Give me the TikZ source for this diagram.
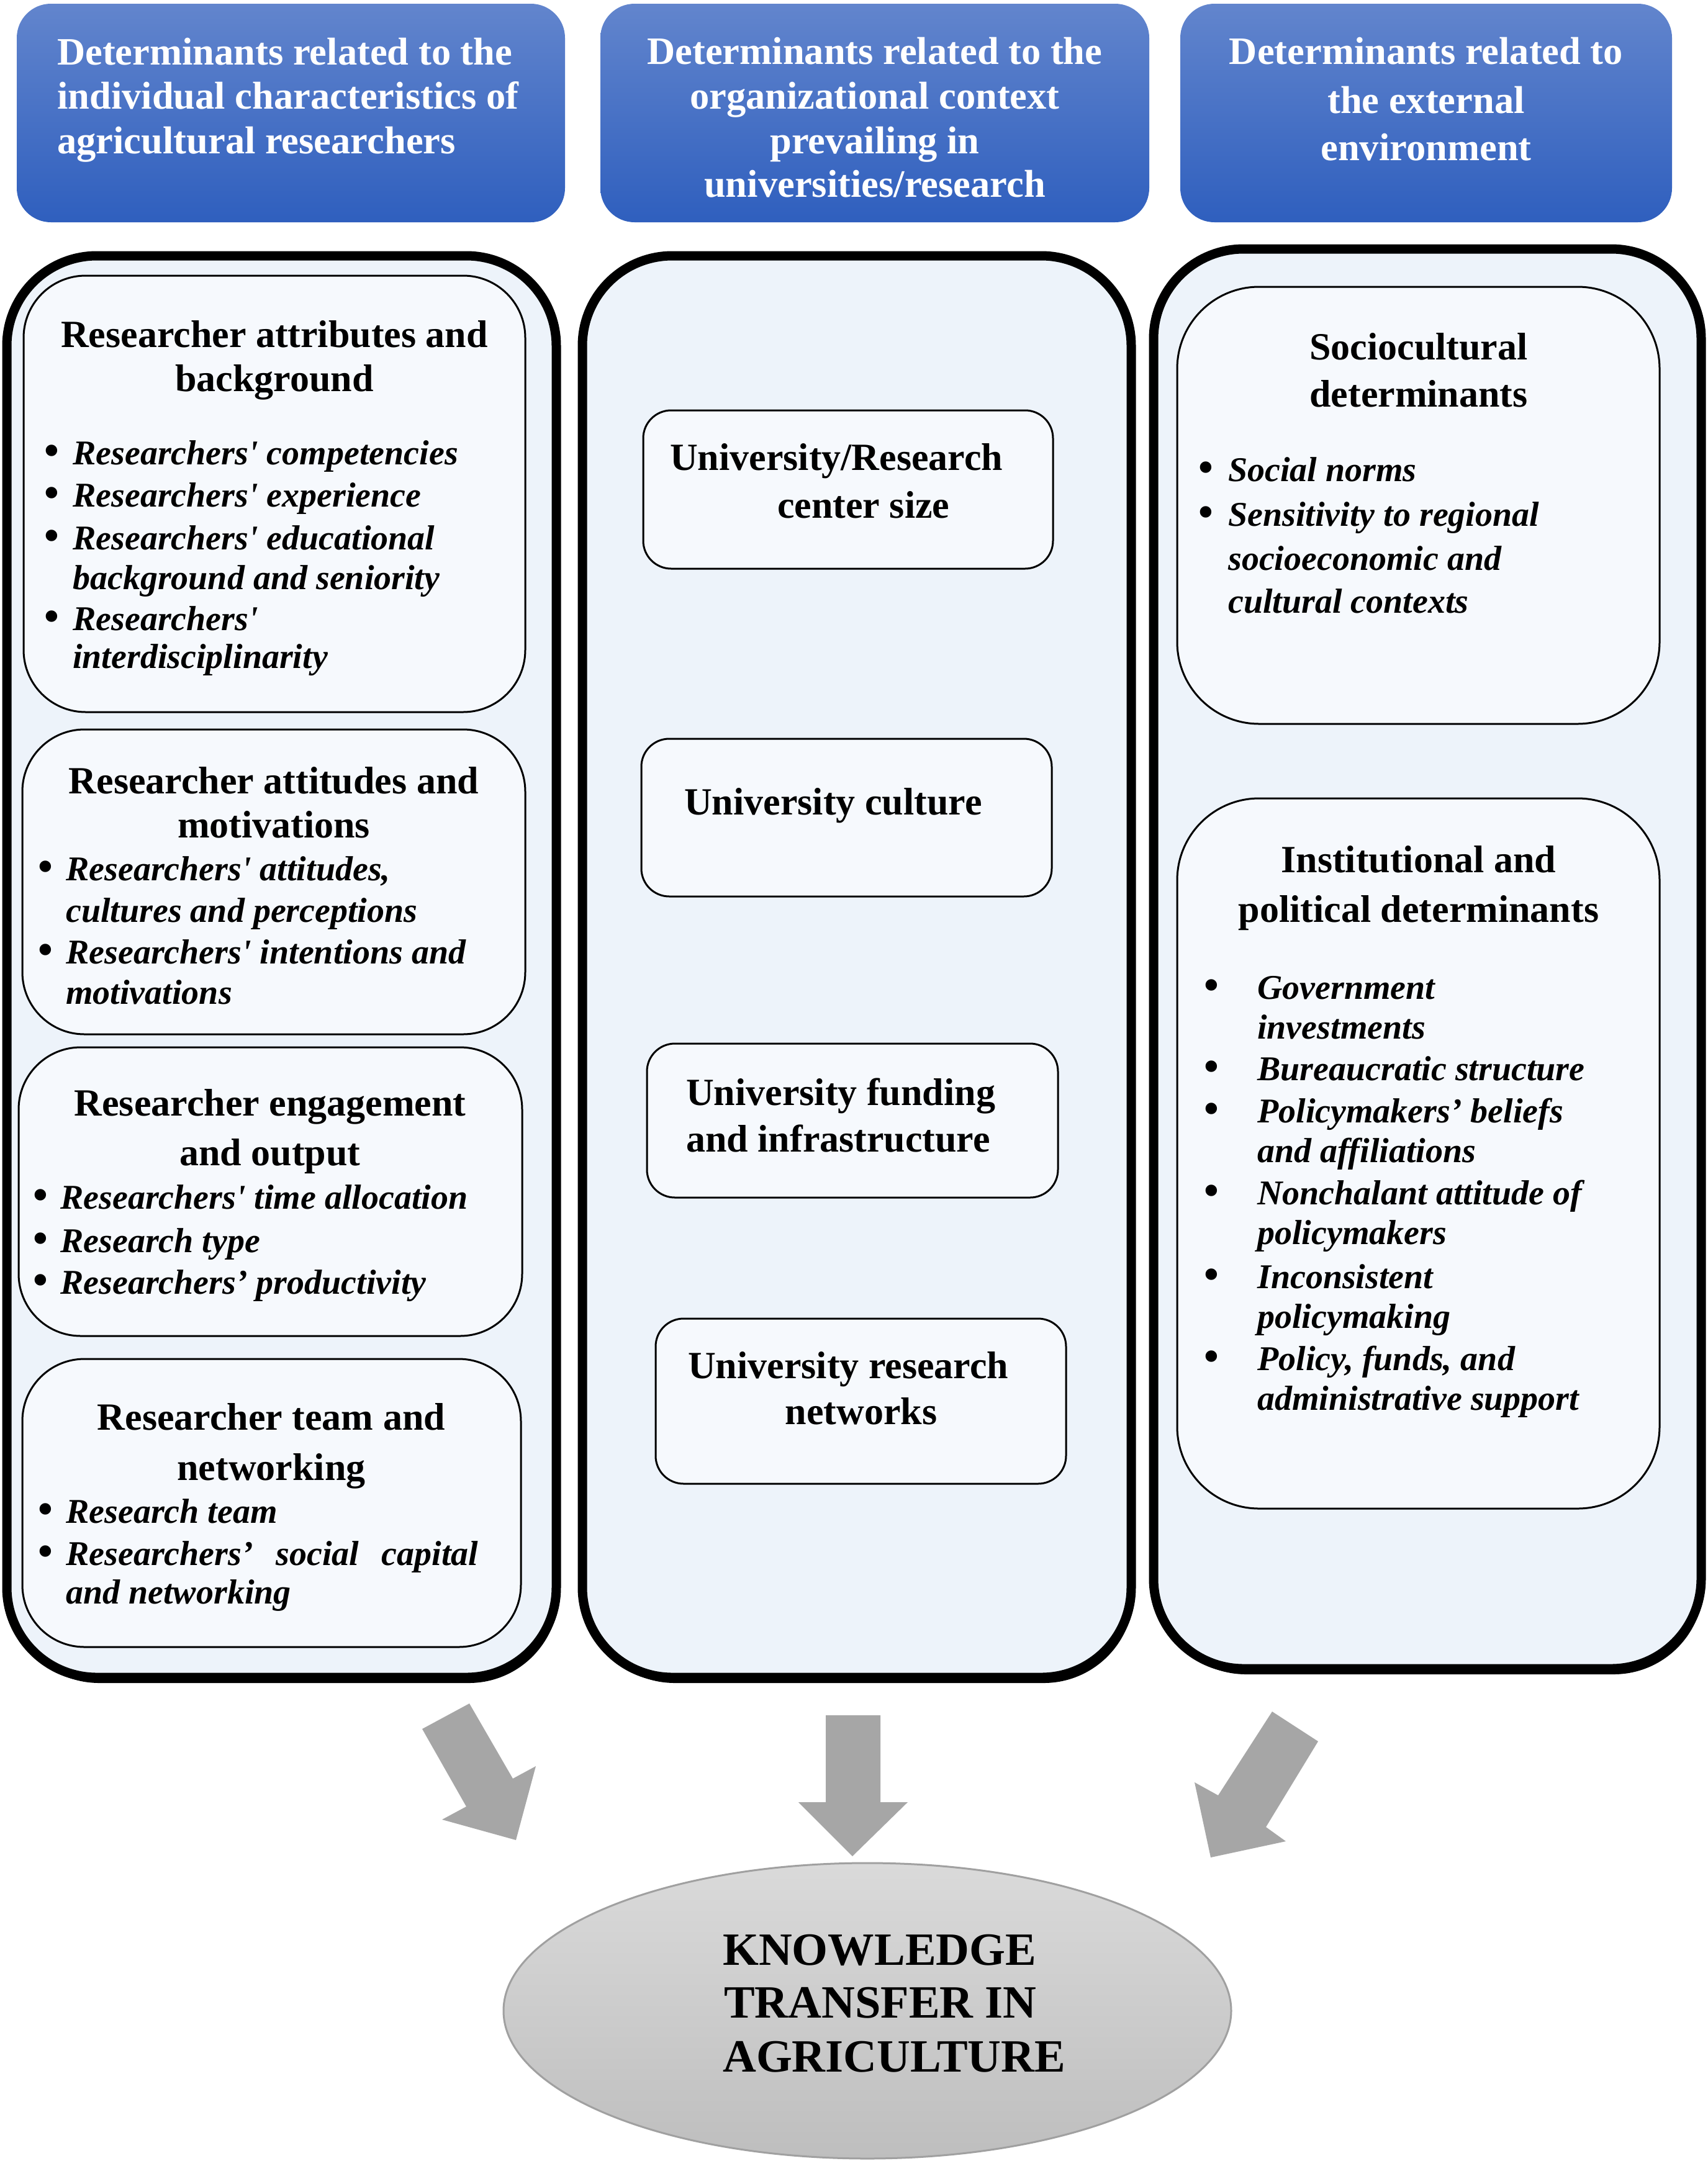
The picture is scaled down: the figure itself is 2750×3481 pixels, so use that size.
\documentclass[tikz,border=0pt]{standalone}
\usepackage{fontspec}
\setmainfont{Liberation Serif}
\usetikzlibrary{shapes.geometric}
\definecolor{hdtop}{RGB}{98,133,205}
\definecolor{hdbot}{RGB}{47,95,190}
\definecolor{panelfill}{RGB}{237,243,250}
\definecolor{boxfill}{RGB}{246,249,253}
\definecolor{arrgray}{RGB}{166,166,166}
\definecolor{elltop}{RGB}{218,218,218}
\definecolor{ellbot}{RGB}{190,190,190}
\definecolor{elledge}{RGB}{160,160,160}
\newcommand\fhd{\fontsize{62.5}{71}\selectfont\bfseries}
\newcommand\fttl{\fontsize{62}{71}\selectfont\bfseries}
\newcommand\fitm{\fontsize{56}{66}\selectfont\bfseries\itshape}
\newcommand\fbul{\fontsize{68}{66}\selectfont\bfseries}
\newcommand\fkt{\fontsize{74.5}{86}\selectfont\bfseries}
\newcommand\sq{\textquotesingle}
\newcommand\rbox[6]{\node[#1,minimum width={(#5)-(#3)},minimum height={(#6)-(#4)}] (#2) at ({((#3)+(#5))/2},{((#4)+(#6))/2}) {};}
\newcommand\bl[3]{\node[bul] (#1) at (#2,#3) {\textbullet};}
\newcommand\itl[4]{\node[itm] (#1) at (#2,#3) {#4};}
\begin{document}
\begin{tikzpicture}[x=1pt,y=-1pt,
  hbox/.style={rectangle,rounded corners=55pt,top color=hdtop,bottom color=hdbot,draw=none,inner sep=0pt,outer sep=0pt},
  panel/.style={rectangle,rounded corners=145pt,draw=black,line width=15pt,fill=panelfill,inner sep=0pt,outer sep=0pt},
  pshadow/.style={rectangle,rounded corners=145pt,fill=black,draw=none,inner sep=0pt,outer sep=0pt},
  ibox/.style={rectangle,rounded corners=100pt,draw=black,line width=3pt,fill=boxfill,inner sep=0pt,outer sep=0pt},
  dbox/.style={ibox,rounded corners=132pt},
  cbox/.style={ibox,rounded corners=45pt},
  hdc/.style={font=\fhd,text=white,inner sep=0pt,anchor=base},
  hdw/.style={hdc,anchor=base west},
  ttc/.style={font=\fttl,inner sep=0pt,anchor=base},
  ttw/.style={ttc,anchor=base west},
  itm/.style={font=\fitm,inner sep=0pt,anchor=base west},
  bul/.style={font=\fbul,inner sep=0pt,anchor=base},
  ktx/.style={font=\fkt,inner sep=0pt,anchor=base west},
  arr/.style={fill=arrgray,draw=none}]
\useasboundingbox (0,0) rectangle (2750,3481);
\fill[white] (0,0) rectangle (2750,3481);

% headers
\rbox{hbox}{H1}{27}{6}{910}{358}
\rbox{hbox}{H2}{967}{6}{1851}{358}
\rbox{hbox}{H3}{1901}{6}{2693}{358}
\node[hdw] (h1a) at (92,104) {Determinants related to the};
\node[hdw] (h1b) at (92,175) {individual characteristics of};
\node[hdw] (h1c) at (92,247) {agricultural researchers};
\node[hdc] (h2a) at (1409,103) {Determinants related to the};
\node[hdc] (h2b) at (1409,175) {organizational context};
\node[hdc] (h2c) at (1409,247) {prevailing in};
\node[hdc] (h2d) at (1409,317) {universities/research};
\node[hdc] (h3a) at (2297,103) {Determinants related to};
\node[hdc] (h3b) at (2297,182) {the external};
\node[hdc] (h3c) at (2297,258) {environment};

% panels
\rbox{pshadow}{P1s}{15}{421}{900}{2711}
\rbox{pshadow}{P2s}{942}{421}{1826}{2711}
\rbox{pshadow}{P3s}{1862}{410}{2744}{2697}
\rbox{panel}{P1}{11}{412}{896}{2702}
\rbox{panel}{P2}{938}{412}{1822}{2702}
\rbox{panel}{P3}{1858}{401}{2740}{2688}

% left column boxes
\rbox{ibox}{B1}{38}{444}{846}{1147}
\rbox{ibox}{B2}{36}{1175}{846}{1666}
\rbox{ibox}{B3}{30}{1687}{841}{2152}
\rbox{ibox}{B4}{36}{2189}{839}{2653}

\node[ttc] (b1t1) at (442,559) {Researcher attributes and};
\node[ttc] (b1t2) at (442,630) {background};
\bl{b1d1}{83}{748}\itl{b1i1}{117}{748}{Researchers\sq{} competencies}
\bl{b1d2}{83}{816}\itl{b1i2}{117}{816}{Researchers\sq{} experience}
\bl{b1d3}{83}{885}\itl{b1i3}{117}{885}{Researchers\sq{} educational}
\itl{b1i3b}{117}{949}{background and seniority}
\bl{b1d4}{83}{1015}\itl{b1i4}{117}{1015}{Researchers\sq}
\itl{b1i4b}{117}{1076}{interdisciplinarity}

\node[ttc] (b2t1) at (441,1278) {Researcher attitudes and};
\node[ttc] (b2t2) at (441,1349) {motivations};
\bl{b2d1}{73}{1418}\itl{b2i1}{106}{1418}{Researchers\sq{} attitudes,}
\itl{b2i1b}{106}{1485}{cultures and perceptions}
\bl{b2d2}{73}{1552}\itl{b2i2}{106}{1552}{Researchers\sq{} intentions and}
\itl{b2i2b}{106}{1617}{motivations}

\node[ttc] (b3t1) at (435,1797) {Researcher engagement};
\node[ttc] (b3t2) at (435,1877) {and output};
\bl{b3d1}{65}{1947}\itl{b3i1}{97}{1947}{Researchers\sq{} time allocation}
\bl{b3d2}{65}{2017}\itl{b3i2}{97}{2017}{Research type}
\bl{b3d3}{65}{2084}\itl{b3i3}{97}{2084}{Researchers’ productivity}

\node[ttc] (b4t1) at (437,2303) {Researcher team and};
\node[ttc] (b4t2) at (437,2384) {networking};
\bl{b4d1}{73}{2453}\itl{b4i1}{106}{2453}{Research team}
\bl{b4d2}{73}{2521}\itl{b4i2}{106}{2521}{\makebox[664pt][s]{Researchers’ social capital}}
\itl{b4i2b}{106}{2583}{and networking}

% middle column boxes
\rbox{cbox}{C1}{1036}{661}{1696}{916}
\rbox{cbox}{C2}{1033}{1190}{1694}{1444}
\rbox{cbox}{C3}{1042}{1681}{1704}{1929}
\rbox{cbox}{C4}{1056}{2124}{1717}{2390}
\node[ttw] (c1a) at (1079,757) {University/Research};
\node[ttw] (c1b) at (1252,834) {center size};
\node[ttw] (c2a) at (1102,1312) {University culture};
\node[ttw] (c3a) at (1105,1780) {University funding};
\node[ttw] (c3b) at (1105,1855) {and infrastructure};
\node[ttw] (c4a) at (1108,2220) {University research};
\node[ttc] (c4b) at (1387,2294) {networks};

% right column boxes
\rbox{dbox}{D1}{1896}{462}{2673}{1166}
\rbox{dbox}{D2}{1896}{1286}{2673}{2430}
\node[ttc] (d1t1) at (2285,579) {Sociocultural};
\node[ttc] (d1t2) at (2285,655) {determinants};
\bl{d1d1}{1942}{775}\itl{d1i1}{1978}{775}{Social norms}
\bl{d1d2}{1942}{847}\itl{d1i2}{1978}{847}{Sensitivity to regional}
\itl{d1i2b}{1978}{918}{socioeconomic and}
\itl{d1i2c}{1978}{987}{cultural contexts}

\node[ttc] (d2t1) at (2285,1405) {Institutional and};
\node[ttc] (d2t2) at (2285,1485) {political determinants};
\bl{d2d1}{1951}{1609}\itl{d2i1}{2025}{1609}{Government}
\itl{d2i1b}{2025}{1673}{investments}
\bl{d2d2}{1951}{1740}\itl{d2i2}{2025}{1740}{Bureaucratic structure}
\bl{d2d3}{1951}{1808}\itl{d2i3}{2025}{1808}{Policymakers’ beliefs}
\itl{d2i3b}{2025}{1872}{and affiliations}
\bl{d2d4}{1951}{1940}\itl{d2i4}{2025}{1940}{Nonchalant attitude of}
\itl{d2i4b}{2025}{2004}{policymakers}
\bl{d2d5}{1951}{2075}\itl{d2i5}{2025}{2075}{Inconsistent}
\itl{d2i5b}{2025}{2139}{policymaking}
\bl{d2d6}{1951}{2207}\itl{d2i6}{2025}{2207}{Policy, funds, and}
\itl{d2i6b}{2025}{2271}{administrative support}

% block arrows
\fill[arr] (680,2785) -- (756,2744) -- (826,2865) -- (863,2845) -- (831,2964) -- (712,2931) -- (751,2910) -- cycle;
\fill[arr] (1330,2763) -- (1418,2763) -- (1418,2903) -- (1462,2903) -- (1373,2990) -- (1286,2903) -- (1330,2903) -- cycle;
\fill[arr] (2049,2757) -- (2123,2805) -- (2039,2943) -- (2071,2966) -- (1950,2992) -- (1924,2871) -- (1962,2892) -- cycle;

% ellipse
\node[ellipse,minimum width=1172,minimum height=476,top color=elltop,bottom color=ellbot,draw=elledge,line width=3pt,inner sep=0pt] (KT) at (1397,3239) {};
\node[ktx] (kt1) at (1164,3165) {KNOWLEDGE};
\node[ktx] (kt2) at (1166,3250) {TRANSFER IN};
\node[ktx] (kt3) at (1164,3337) {AGRICULTURE};
\end{tikzpicture}
\end{document}
